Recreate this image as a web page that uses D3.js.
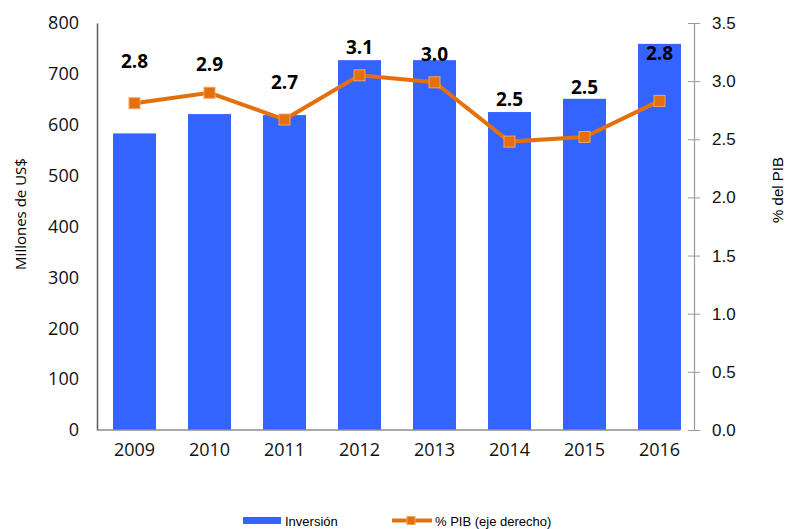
<!DOCTYPE html>
<html>
<head>
<meta charset="utf-8">
<script src="https://cdn.jsdelivr.net/npm/d3@7"></script>
<style>
  body { margin: 0; background: #fff; }
</style>
</head>
<body>
<script>
// chart data
const years = ['2009', '2010', '2011', '2012', '2013', '2014', '2015', '2016']
const inversion = [583, 621, 619, 727, 727, 625, 651, 759]
const pctPib = [2.81, 2.90, 2.67, 3.05, 2.99, 2.48, 2.52, 2.83]
const pctLabels = ['2.8', '2.9', '2.7', '3.1', '3.0', '2.5', '2.5', '2.8']
const leftTicks = [0, 100, 200, 300, 400, 500, 600, 700, 800]
const rightTicks = [0, 0.5, 1, 1.5, 2, 2.5, 3, 3.5]

// how far above the marker each label sits (hand placed in original)
const labelLift = [42, 28, 37, 28, 28, 42, 50, 48]

const measurements = { width: 788, height: 529 }
const plot = { left: 97, right: 697, top: 23, bottom: 430 }

const svg = d3.select('body').append('svg')
    .attr('width', measurements.width)
    .attr('height', measurements.height)
    .attr('font-family', 'Open Sans, sans-serif')

const x = d3.scaleBand()
    .domain(years)
    .range([plot.left, plot.right])
    .paddingInner(0.427)
    .paddingOuter(0.2135)

const yLeft = d3.scaleLinear().domain([0, 800]).range([plot.bottom, plot.top])
const yRight = d3.scaleLinear().domain([0, 3.5]).range([plot.bottom, plot.top])

// bars
svg.append('g').selectAll('rect')
    .data(inversion)
    .enter()
    .append('rect')
    .attr('x', (d, i) => x(years[i]))
    .attr('y', d => yLeft(d))
    .attr('width', x.bandwidth())
    .attr('height', d => plot.bottom - yLeft(d))
    .attr('fill', '#3364fd')

// left axis
const leftAxis = svg.append('g')
    .attr('transform', `translate(${plot.left},0)`)
    .call(d3.axisLeft(yLeft).tickValues(leftTicks).tickSize(0).tickPadding(18))
leftAxis.attr('font-family', 'Open Sans')
leftAxis.select('.domain').attr('stroke', '#595959').attr('stroke-width', 1.5)
leftAxis.selectAll('text').attr('font-size', 18).attr('fill', '#111')

// bottom axis
const bottomAxis = svg.append('g')
    .attr('transform', `translate(0,${plot.bottom})`)
    .call(d3.axisBottom(x).tickSize(0).tickPadding(13))
bottomAxis.attr('font-family', 'Open Sans')
bottomAxis.select('.domain').attr('stroke', '#8c8c8c').attr('stroke-width', 1.5)
    .attr('d', `M${plot.left},0H680`)
bottomAxis.selectAll('text').attr('font-size', 18).attr('fill', '#111')

// right axis
const rightAxis = svg.append('g')
    .attr('transform', 'translate(694,0)')
    .call(d3.axisRight(yRight).tickValues(rightTicks).tickSizeInner(6).tickSizeOuter(0)
        .tickFormat(d3.format('.1f')).tickPadding(12))
rightAxis.attr('font-family', 'Liberation Sans')
rightAxis.select('.domain').attr('stroke', '#999').attr('stroke-width', 1.2)
rightAxis.selectAll('line').attr('stroke', '#999').attr('x1', -6).attr('x2', 6)
rightAxis.selectAll('text').attr('font-size', 17).attr('fill', '#111')

// axis titles
svg.append('text')
    .attr('transform', 'translate(26,214) rotate(-90)')
    .attr('text-anchor', 'middle')
    .attr('font-size', 15)
    .text('Millones de US$')

svg.append('text')
    .attr('transform', 'translate(783,190) rotate(-90)')
    .attr('text-anchor', 'middle')
    .attr('font-family', 'Liberation Sans')
    .attr('font-size', 15)
    .text('% del PIB')

// line
const cx = (d, i) => x(years[i]) + x.bandwidth() / 2
const line = d3.line().x(cx).y(d => yRight(d))

svg.append('path')
    .datum(pctPib)
    .attr('d', line)
    .attr('fill', 'none')
    .attr('stroke', '#e4700c')
    .attr('stroke-width', 4)

svg.append('g').selectAll('rect')
    .data(pctPib)
    .enter()
    .append('rect')
    .attr('x', (d, i) => cx(d, i) - 5.5)
    .attr('y', d => yRight(d) - 5.5)
    .attr('width', 11)
    .attr('height', 11)
    .attr('fill', '#e4700c')
    .attr('stroke', '#f3a261')
    .attr('stroke-width', 1)

// data labels
svg.append('g').selectAll('text')
    .data(pctPib)
    .enter()
    .append('text')
    .attr('x', cx)
    .attr('y', (d, i) => yRight(d) - labelLift[i])
    .attr('dy', '0.35em')
    .attr('text-anchor', 'middle')
    .attr('font-size', 19)
    .attr('font-weight', 'bold')
    .attr('fill', '#000')
    .text((d, i) => pctLabels[i])

// legend
svg.append('rect')
    .attr('x', 243).attr('y', 517).attr('width', 38).attr('height', 7)
    .attr('fill', '#3364fd')
svg.append('text')
    .attr('x', 285).attr('y', 521).attr('dy', '0.35em')
    .attr('font-family', 'Liberation Sans').attr('font-size', 13)
    .text('Inversión')
svg.append('line')
    .attr('x1', 392).attr('x2', 432).attr('y1', 520.5).attr('y2', 520.5)
    .attr('stroke', '#e4700c').attr('stroke-width', 4)
svg.append('rect')
    .attr('x', 407).attr('y', 516.5).attr('width', 8).attr('height', 8)
    .attr('fill', '#e4700c').attr('stroke', '#f3a261')
svg.append('text')
    .attr('x', 435).attr('y', 521).attr('dy', '0.35em')
    .attr('font-family', 'Liberation Sans').attr('font-size', 13)
    .text('% PIB (eje derecho)')
</script>
</body>
</html>
